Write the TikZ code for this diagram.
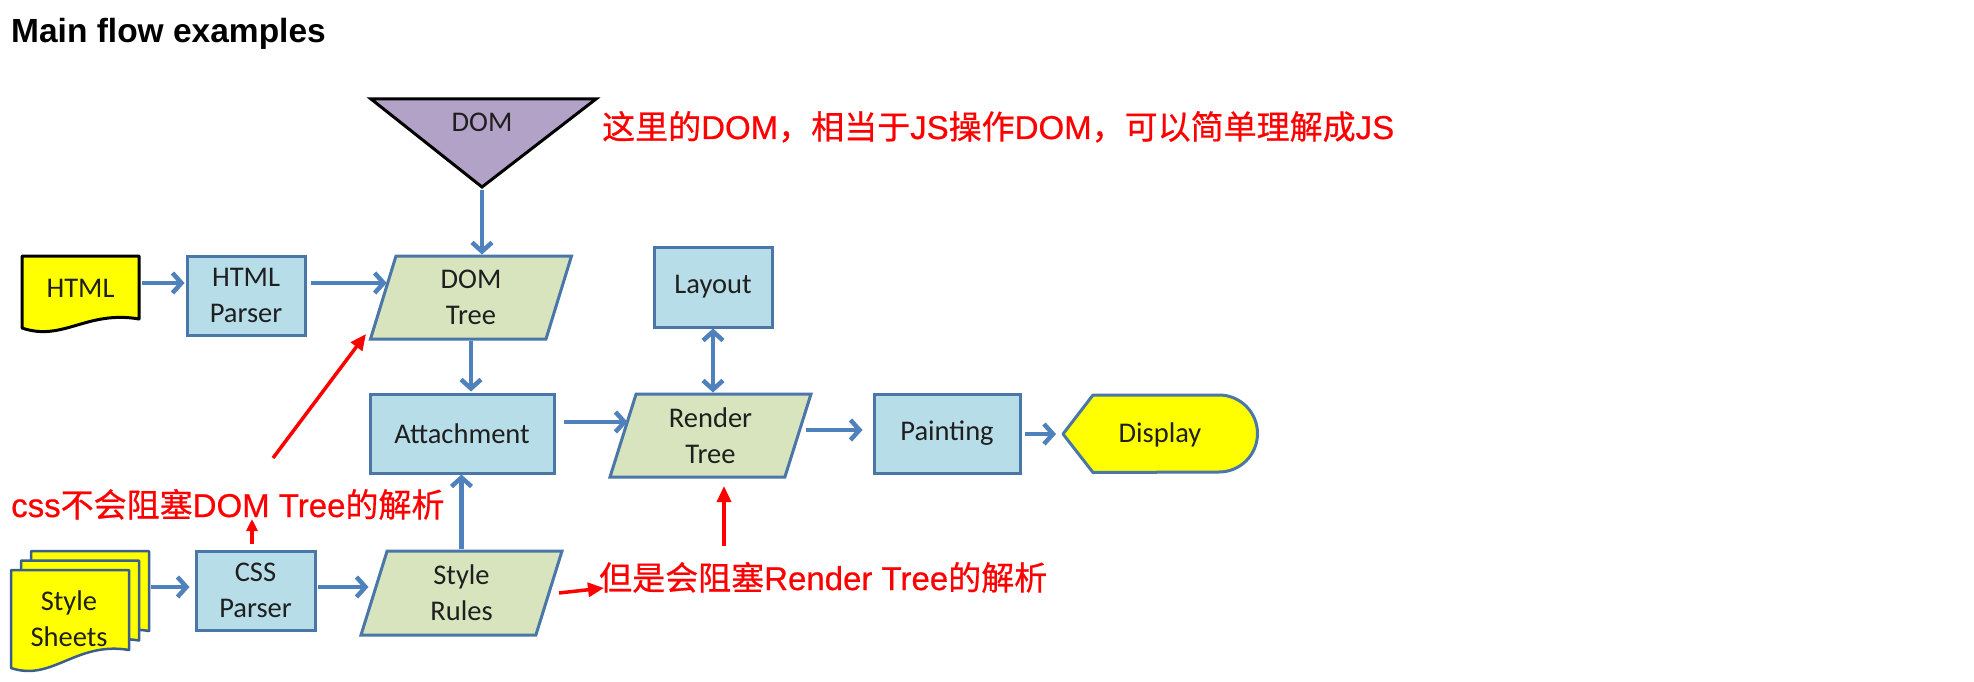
\documentclass[tikz,border=0pt]{standalone}
\usepackage{fontspec}
\setmainfont{Carlito}
\newfontfamily\cjk{Noto Sans CJK SC}[FakeBold=0.6]
\newfontfamily\lat{Liberation Sans}[FakeBold=0.6]
\newfontfamily\ttl{Liberation Sans}
\usetikzlibrary{arrows.meta,shapes.geometric}
\definecolor{boxfill}{HTML}{B7DDE8}
\definecolor{parafill}{HTML}{D7E4BD}
\definecolor{edgeblue}{HTML}{4A76A8}
\definecolor{arrowblue}{HTML}{4F81BD}
\definecolor{tripurple}{HTML}{B3A2C7}
\definecolor{docyellow}{HTML}{FFFF00}
\definecolor{ssedge}{HTML}{3B5F8A}
\definecolor{txt}{HTML}{1F1F1F}
\definecolor{redc}{HTML}{FF0000}
\newcommand\docshape[6]{%
  \draw[#1] (#2,#3) -- ({#2+#4},#3) -- ({#2+#4},{#3+#6})
    .. controls ({#2+0.55*#4},{#3+#6-9}) and ({#2+0.35*#4},{#3+#5+14}) .. (#2,{#3+#5}) -- cycle;}
\tikzset{
  lbl/.style={font=\fontsize{28.5}{36}\selectfont, text=txt, align=center, inner sep=0pt},
  box/.style={lbl, rectangle, draw=edgeblue, fill=boxfill, line width=3pt},
  para/.style={lbl, trapezium, trapezium left angle=65, trapezium right angle=115,
    trapezium stretches body, draw=edgeblue, fill=parafill, line width=3pt,
    minimum height=83pt, minimum width=201pt},
  docy/.style={fill=docyellow, draw=black, line width=3pt, line join=round},
  ssdoc/.style={fill=docyellow, draw=ssedge, line width=2.5pt, line join=round},
  arr/.style={draw=arrowblue, line width=4.5pt, -{Straight Barb[length=9pt,width=20pt]}},
  darr/.style={draw=arrowblue, line width=4.5pt,
    {Straight Barb[length=9pt,width=20pt]}-{Straight Barb[length=9pt,width=20pt]}},
  redarr/.style={draw=redc, line width=3.5pt, -{Triangle[length=16pt,width=14pt]}},
  redtxt/.style={text=redc, font=\fontsize{33}{40}\selectfont, inner sep=0pt, anchor=base west},
}
\begin{document}
\begin{tikzpicture}[x=1pt,y=-1pt]
\useasboundingbox (0,0) rectangle (1974,682);
\fill[white] (0,0) rectangle (1974,682);

% title
\node[anchor=base west, inner sep=0pt, font=\ttl\bfseries\fontsize{33.5}{40}\selectfont] (title) at (11,43) {Main flow examples};

% DOM triangle
\draw[fill=tripurple, draw=black, line width=3pt, line join=miter] (371,99) -- (596,99) -- (482,187) -- cycle;
\node[lbl] (dom) at (482,122) {DOM};
\coordinate (domtip) at (482,187);

% HTML document
\docshape{docy}{22}{256}{117}{72}{63}
\node[lbl] (html) at (80.5,288) {HTML};
\coordinate (htmlr) at (139,283);

% Style sheets
\docshape{ssdoc}{31}{551}{118}{98}{80}
\docshape{ssdoc}{21}{560.5}{118}{98}{80}
\docshape{ssdoc}{11}{570}{118}{98}{80}
\node[lbl] (ss) at (69,619) {Style\\Sheets};
\coordinate (ssr) at (149,587);

% boxes
\node[box, minimum width=118pt, minimum height=79pt] (hp) at (246,295.5) {HTML\\Parser};
\node[para] (dt) at (471,297.5) {DOM\\Tree};
\node[box, minimum width=184pt, minimum height=79pt] (att) at (462,433.5) {Attachment};
\node[para] (rt) at (710.5,435.5) {Render\\Tree};
\node[box, minimum width=118pt, minimum height=80pt] (lay) at (713,287) {Layout};
\node[box, minimum width=146pt, minimum height=79pt] (pnt) at (947,433.5) {Painting};
\node[box, minimum width=119pt, minimum height=79pt] (css) at (255.5,590.5) {CSS\\Parser};
\node[para, minimum height=84pt] (sr) at (461.5,593) {Style\\Rules};

% Display
\draw[fill=docyellow, draw=edgeblue, line width=3pt, line join=round]
  (1063,434) -- (1093,395) -- (1219,395) arc[start angle=-90, end angle=90, radius=38.5] -- (1093,472.5) -- cycle;
\node[lbl] (disp) at (1160,435) {Display};
\coordinate (disptip) at (1063,434);

% blue connectors
\draw[arr, shorten <=3pt] (domtip) -- (domtip |- dt.north);
\draw[arr, shorten <=3pt, shorten >=1pt] (htmlr) -- (htmlr -| hp.west);
\draw[arr, shorten <=4pt, shorten >=-5pt] ([yshift=12.5pt]hp.east) -- ([yshift=12.5pt]hp.east -| dt.west);
\draw[arr, shorten >=1pt] (dt.south) -- (dt.south |- att.north);
\draw[arr, shorten <=8pt, shorten >=-6pt] ([yshift=11.5pt]att.east) -- ([yshift=11.5pt]att.east -| rt.west);
\draw[darr] (lay.south) -- (lay.south |- rt.north);
\draw[arr, shorten <=6pt, shorten >=10pt] ([yshift=3.5pt]pnt.west -| rt.east) -- ([yshift=3.5pt]pnt.west);
\draw[arr, shorten <=3pt, shorten >=7pt] (pnt.east |- disptip) -- (disptip);
\draw[arr, shorten <=2pt, shorten >=5pt] (ssr) -- (ssr -| css.west);
\draw[arr, shorten <=1pt, shorten >=4pt] ([yshift=3.5pt]css.east) -- ([yshift=3.5pt]css.east -| sr.west);
\draw[arr] (sr.north) -- (sr.north |- att.south);

% red annotations
\node[redtxt] (t1) at (602,139) {\cjk 这里的\lat DOM\cjk ，相当于\lat JS\cjk 操作\lat DOM\cjk ，可以简单理解成\lat JS};
\node[redtxt] (t2) at (11,517) {\lat css\cjk 不会阻塞\lat DOM Tree\cjk 的解析};
\node[redtxt] (t3) at (599,590) {\cjk 但是会阻塞\lat Render Tree\cjk 的解析};

\coordinate (r1a) at (273,458); \coordinate (r1b) at (366,334);
\coordinate (r2a) at (252,544); \coordinate (r2b) at (252,519);
\coordinate (r3a) at (724,546); \coordinate (r3b) at (724,486);
\coordinate (r4a) at (559,593); \coordinate (r4b) at (604,588);
\draw[redarr] (r1a) -- (r1b);
\draw[redarr, -{Triangle[length=12pt,width=11pt]}] (r2a) -- (r2b);
\draw[redarr] (r3a) -- (r3b);
\draw[redarr] (r4a) -- (r4b);
\end{tikzpicture}
\end{document}
